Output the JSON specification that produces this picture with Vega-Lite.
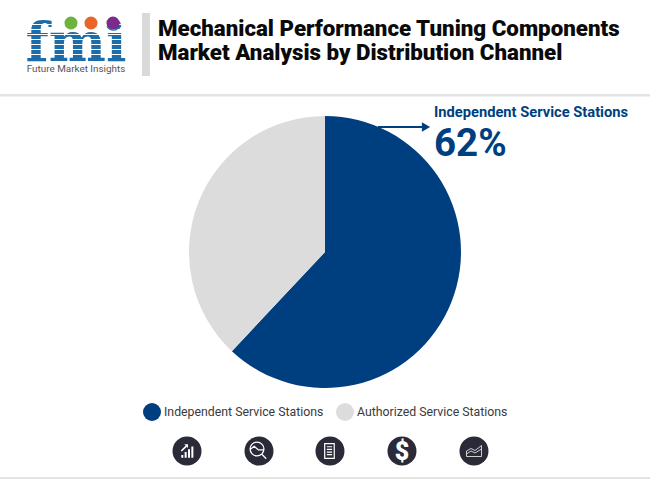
{
  "$schema": "https://vega.github.io/schema/vega-lite/v6.json",
  "description": "Pie chart of mechanical performance tuning components market share by distribution channel.",
  "width": 650,
  "height": 454,
  "autosize": "none",
  "padding": {"left": 0, "top": 25, "right": 0, "bottom": 0},
  "background": "white",
  "title": {
    "text": ["Mechanical Performance Tuning Components", "Market Analysis by Distribution Channel"],
    "anchor": "start",
    "frame": "group",
    "dx": 158,
    "dy": 51,
    "font": "Roboto",
    "fontSize": 22.3,
    "fontWeight": 900,
    "color": "#0a0a0a",
    "lineHeight": 24,
    "offset": 0
  },
  "datasets": {
    "channels": [
      {"channel": "Independent Service Stations", "share": 62, "rank": 1},
      {"channel": "Authorized Service Stations", "share": 38, "rank": 2}
    ],
    "note": [{"label": "note"}]
  },
  "layer": [
    {
      "data": {"name": "channels"},
      "mark": {"type": "arc", "outerRadius": 136},
      "encoding": {
        "theta": {"field": "share", "type": "quantitative", "stack": true},
        "order": {"field": "rank", "type": "ordinal"},
        "color": {
          "field": "channel",
          "type": "nominal",
          "scale": {
            "domain": ["Independent Service Stations", "Authorized Service Stations"],
            "range": ["#003f7f", "#dcdcdc"]
          },
          "legend": {
            "title": null,
            "orient": "none",
            "legendX": 143,
            "legendY": 378,
            "direction": "horizontal",
            "symbolType": "circle",
            "symbolSize": 324,
            "symbolStrokeWidth": 0,
            "labelFont": "Roboto",
            "labelFontSize": 12.3,
            "labelColor": "#3a3a3a",
            "labelOffset": 3,
            "columnPadding": 12,
            "labelLimit": 300
          }
        }
      }
    },
    {"data": {"name": "note"}, "encoding": {}, "mark": {"type": "rect", "x": 142, "x2": 150, "y": -12, "y2": 51, "color": "#d9d9d9"}},
    {"data": {"name": "note"}, "encoding": {}, "mark": {"type": "rect", "x": 0, "x2": 650, "y": 69, "y2": 71.5, "color": "#e4e4e4"}},
    {"data": {"name": "note"}, "encoding": {}, "mark": {"type": "rect", "x": 0, "x2": 650, "y": 452, "y2": 454, "color": "#e4e4e4"}},
    {"data": {"name": "note"}, "encoding": {}, "mark": {"type": "rect", "x": 378, "x2": 426, "y": 101, "y2": 103, "color": "#003f7f"}},
    {"data": {"name": "note"}, "encoding": {}, "mark": {"type": "point", "x": 426, "y": 102, "shape": "triangle-right", "size": 90, "filled": true, "color": "#003f7f", "opacity": 1}},
    {"data": {"name": "note"}, "encoding": {}, "mark": {"type": "text", "x": 434, "y": 88, "align": "left", "baseline": "middle", "font": "Roboto", "fontSize": 14.7, "fontWeight": 700, "color": "#003f7f", "text": "Independent Service Stations"}},
    {"data": {"name": "note"}, "encoding": {}, "mark": {"type": "text", "x": 434, "y": 119, "align": "left", "baseline": "middle", "font": "Roboto", "fontSize": 38.5, "fontWeight": 700, "color": "#003f7f", "text": "62%"}},

    {"data": {"name": "note"}, "encoding": {}, "mark": {"type": "text", "x": 76, "y": 36, "align": "center", "baseline": "alphabetic", "font": "DejaVu Serif", "fontSize": 54, "fontWeight": 700, "color": "#1b6ca8", "text": "fmi"}},
    {"data": {"name": "note"}, "encoding": {}, "mark": {"type": "rect", "x": 24, "x2": 128, "y": -1, "y2": 0, "color": "white"}},
    {"data": {"name": "note"}, "encoding": {}, "mark": {"type": "rect", "x": 24, "x2": 128, "y": 4, "y2": 5, "color": "white"}},
    {"data": {"name": "note"}, "encoding": {}, "mark": {"type": "rect", "x": 24, "x2": 128, "y": 9, "y2": 10, "color": "white"}},
    {"data": {"name": "note"}, "encoding": {}, "mark": {"type": "rect", "x": 24, "x2": 128, "y": 14, "y2": 15, "color": "white"}},
    {"data": {"name": "note"}, "encoding": {}, "mark": {"type": "rect", "x": 24, "x2": 128, "y": 19, "y2": 20, "color": "white"}},
    {"data": {"name": "note"}, "encoding": {}, "mark": {"type": "rect", "x": 24, "x2": 128, "y": 24, "y2": 25, "color": "white"}},
    {"data": {"name": "note"}, "encoding": {}, "mark": {"type": "rect", "x": 24, "x2": 128, "y": 29, "y2": 30, "color": "white"}},
    {"data": {"name": "note"}, "encoding": {}, "mark": {"type": "point", "x": 71, "y": -2, "shape": "circle", "size": 170, "filled": true, "color": "#6fb33f", "opacity": 1}},
    {"data": {"name": "note"}, "encoding": {}, "mark": {"type": "point", "x": 91, "y": -2, "shape": "circle", "size": 170, "filled": true, "color": "#e8662a", "opacity": 1}},
    {"data": {"name": "note"}, "encoding": {}, "mark": {"type": "point", "x": 113, "y": -2, "shape": "circle", "size": 170, "filled": true, "color": "#7d2a8c", "opacity": 1}},
    {"data": {"name": "note"}, "encoding": {}, "mark": {"type": "text", "x": 76, "y": 44, "align": "center", "baseline": "middle", "font": "Roboto", "fontSize": 9.9, "color": "#555555", "text": "Future Market Insights"}},

    {"data": {"name": "note"}, "encoding": {}, "mark": {"type": "point", "x": 187, "y": 426, "shape": "circle", "size": 841, "filled": true, "color": "#2a2a38", "opacity": 1}},
    {"data": {"name": "note"}, "encoding": {}, "mark": {"type": "point", "x": 259, "y": 426, "shape": "circle", "size": 841, "filled": true, "color": "#2a2a38", "opacity": 1}},
    {"data": {"name": "note"}, "encoding": {}, "mark": {"type": "point", "x": 330, "y": 426, "shape": "circle", "size": 841, "filled": true, "color": "#2a2a38", "opacity": 1}},
    {"data": {"name": "note"}, "encoding": {}, "mark": {"type": "point", "x": 402, "y": 426, "shape": "circle", "size": 841, "filled": true, "color": "#2a2a38", "opacity": 1}},
    {"data": {"name": "note"}, "encoding": {}, "mark": {"type": "point", "x": 474, "y": 426, "shape": "circle", "size": 841, "filled": true, "color": "#2a2a38", "opacity": 1}},
    {"data": {"name": "note"}, "encoding": {}, "mark": {"type": "point", "x": 188, "y": 426, "shape": "M-0.6,0.6V0.35H-0.42V0.6ZM-0.3,0.6V0.1H-0.12V0.6ZM0,0.6V-0.15H0.18V0.6ZM0.3,0.6V-0.4H0.48V0.6ZM-0.65,-0.05L-0.2,-0.5L-0.35,-0.6H0V-0.25L-0.1,-0.38L-0.55,0.05Z", "size": 500, "filled": true, "color": "white", "opacity": 1}},
    {"data": {"name": "note"}, "encoding": {}, "mark": {"type": "point", "x": 257, "y": 424, "shape": "M-0.75,0A0.75,0.75 0 1,1 0.75,0A0.75,0.75 0 1,1 -0.75,0M-0.75,0.05L-0.3,-0.3L0.15,0.1L0.75,0.1M0.5,0.55L1,1.05", "size": 340, "filled": false, "strokeWidth": 1.3, "color": "white", "opacity": 1}},
    {"data": {"name": "note"}, "encoding": {}, "mark": {"type": "point", "x": 330, "y": 426, "shape": "M-0.5,-0.7H0.4V0.7H-0.5ZM-0.3,-0.4H0.2M-0.3,-0.15H0.2M-0.3,0.1H0.2M-0.3,0.35H0.2", "size": 450, "filled": false, "strokeWidth": 1.2, "color": "white", "opacity": 1}},
    {"data": {"name": "note"}, "encoding": {}, "mark": {"type": "text", "x": 402, "y": 427, "align": "center", "baseline": "middle", "font": "Roboto", "fontSize": 25, "fontWeight": 900, "color": "white", "text": "$"}},
    {"data": {"name": "note"}, "encoding": {}, "mark": {"type": "point", "x": 474, "y": 426, "shape": "M-0.75,0.55V0L-0.3,-0.25L0.1,-0.05L0.75,-0.55V0.55ZM-0.75,0.3L-0.3,0L0.1,0.2L0.75,-0.2", "size": 400, "filled": false, "strokeWidth": 1, "color": "#cfcfcf", "opacity": 1}},
    {"data": {"name": "note"}, "encoding": {}, "mark": {"type": "point", "x": 114, "y": 4, "shape": "M-1,-0.35Q0,0.75 1,-0.5", "size": 200, "filled": false, "strokeWidth": 1.2, "color": "#1b6ca8", "opacity": 1}}
  ],
  "config": {"view": {"stroke": null}}
}
